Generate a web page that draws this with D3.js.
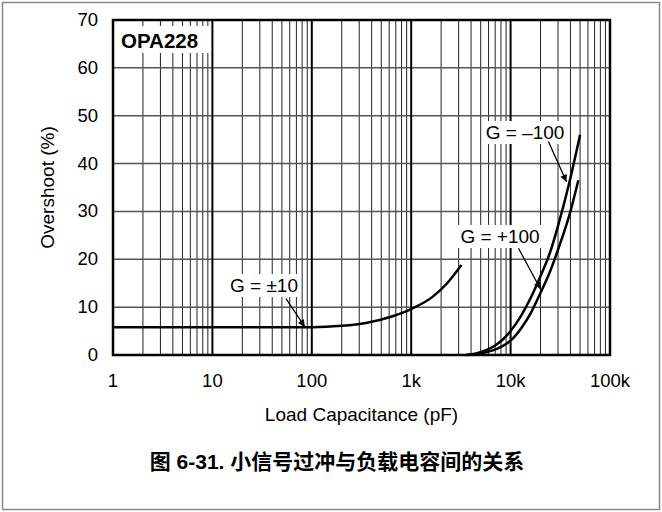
<!DOCTYPE html>
<html>
<head>
<meta charset="utf-8">
<script src="https://cdn.jsdelivr.net/npm/d3@7"></script>
<style>
  body { margin: 0; background: #fff; }
  text { font-family: "Liberation Sans", Arial, sans-serif; fill: #000; }
</style>
</head>
<body>
<script>

var width = 662,
    height = 512,
    margin = { top: 20, right: 52, bottom: 157, left: 113 };

// axis ticks
var capTicks = [1, 10, 100, 1000, 10000, 100000],
    capLabels = ["1", "10", "100", "1k", "10k", "100k"],
    overshootTicks = [0, 10, 20, 30, 40, 50, 60, 70];

// G = ±10
var g10Cap = [1, 10, 100, 200, 350, 650, 1000, 1650, 2300, 3200],
    g10Over = [5.8, 5.8, 5.8, 6.1, 6.7, 8.1, 9.6, 12.2, 15.0, 18.8];

// G = -100
var gm100Cap = [3500, 4500, 5500, 7000, 8500, 10000, 13000, 16000, 20000, 25000, 30000, 40000, 50000],
    gm100Over = [0, 0.3, 0.9, 2.0, 3.4, 5.0, 8.5, 12.0, 16.5, 21.5, 27, 37, 46];

// G = +100
var gp100Cap = [3800, 5000, 6500, 8000, 10000, 13000, 16000, 20000, 25000, 30000, 40000, 48000],
    gp100Over = [0, 0.3, 0.9, 1.7, 3.0, 5.8, 8.8, 13, 17.5, 22, 30, 36.5];

var svg = d3.select("body").append("svg")
    .attr("width", width)
    .attr("height", height);

// outer frame
svg.append("rect")
    .attr("x", 2.5).attr("y", 2.5)
    .attr("width", width - 5).attr("height", 507)
    .attr("fill", "none")
    .attr("stroke", "#888")
    .attr("stroke-width", 1.5);

var x = d3.scaleLog()
    .domain([1, 100000])
    .range([margin.left, width - margin.right]);

var y = d3.scaleLinear()
    .domain([0, 70])
    .range([height - margin.bottom, margin.top]);

var plot = svg.append("g");

// minor vertical grid (2..9 in each decade)
var minor = [];
capTicks.slice(0, -1).forEach(function(d) {
    for (var k = 2; k <= 9; k++) minor.push(d * k);
});

plot.selectAll(".minor")
    .data(minor)
    .enter().append("line")
        .attr("class", "minor")
        .attr("x1", function(d) { return x(d); })
        .attr("x2", function(d) { return x(d); })
        .attr("y1", y(0))
        .attr("y2", y(70))
        .attr("stroke", "#222")
        .attr("stroke-width", 1);

// horizontal grid
plot.selectAll(".hgrid")
    .data(overshootTicks)
    .enter().append("line")
        .attr("class", "hgrid")
        .attr("x1", x(1))
        .attr("x2", x(100000))
        .attr("y1", function(d) { return y(d); })
        .attr("y2", function(d) { return y(d); })
        .attr("stroke", "#555")
        .attr("stroke-width", 1.5);

// decade lines
plot.selectAll(".major")
    .data(capTicks)
    .enter().append("line")
        .attr("class", "major")
        .attr("x1", function(d) { return x(d); })
        .attr("x2", function(d) { return x(d); })
        .attr("y1", y(0))
        .attr("y2", y(70))
        .attr("stroke", "#000")
        .attr("stroke-width", 2);

// OPA228 tag
var tag = svg.append("g");
tag.append("rect")
    .attr("x", x(1) + 4).attr("y", y(70) + 6)
    .attr("width", 92).attr("height", 27)
    .attr("fill", "#fff");
tag.append("text")
    .attr("x", x(1) + 8)
    .attr("y", y(70) + 28)
    .attr("font-size", 20.5)
    .attr("font-weight", "bold")
    .text("OPA228");

// frame of plot
svg.append("rect")
    .attr("x", x(1)).attr("y", y(70))
    .attr("width", x(100000) - x(1))
    .attr("height", y(0) - y(70))
    .attr("fill", "none")
    .attr("stroke", "#000")
    .attr("stroke-width", 2.5);

// axes labels
svg.selectAll(".xtick")
    .data(capTicks)
    .enter().append("text")
        .attr("x", function(d) { return x(d); })
        .attr("y", y(0) + 32)
        .attr("text-anchor", "middle")
        .attr("font-size", 18.5)
        .text(function(d, i) { return capLabels[i]; });

svg.selectAll(".ytick")
    .data(overshootTicks)
    .enter().append("text")
        .attr("x", x(1) - 15)
        .attr("y", function(d) { return y(d) + 6; })
        .attr("text-anchor", "end")
        .attr("font-size", 18.5)
        .text(function(d) { return d; });

svg.append("text")
    .attr("x", (x(1) + x(100000)) / 2)
    .attr("y", 421)
    .attr("text-anchor", "middle")
    .attr("font-size", 19)
    .text("Load Capacitance (pF)");

svg.append("text")
    .attr("transform", "translate(54," + (y(35)) + ") rotate(-90)")
    .attr("text-anchor", "middle")
    .attr("font-size", 19)
    .text("Overshoot (%)");

// caption
svg.append("text")
    .attr("x", 337)
    .attr("y", 469)
    .attr("text-anchor", "middle")
    .attr("font-size", 21)
    .attr("font-weight", "bold")
    .style("font-family", "'Liberation Sans', 'Noto Sans CJK SC', sans-serif")
    .text("图 6-31. 小信号过冲与负载电容间的关系");

// curves
var line = d3.line()
    .x(function(d) { return x(d[0]); })
    .y(function(d) { return y(d[1]); })
    .curve(d3.curveMonotoneX);

function zip(a, b) { return a.map(function(v, i) { return [v, b[i]]; }); }

[zip(g10Cap, g10Over), zip(gm100Cap, gm100Over), zip(gp100Cap, gp100Over)].forEach(function(s) {
    svg.append("path")
        .datum(s)
        .attr("d", line)
        .attr("fill", "none")
        .attr("stroke", "#000")
        .attr("stroke-width", 2.5);
});

// annotation arrows
svg.append("defs").append("marker")
    .attr("id", "head")
    .attr("viewBox", "0 0 10 10")
    .attr("refX", 10).attr("refY", 5)
    .attr("markerWidth", 13).attr("markerHeight", 7)
    .attr("markerUnits", "userSpaceOnUse")
    .attr("orient", "auto")
  .append("path")
    .attr("d", "M0,0 L10,5 L0,10 Z")
    .attr("fill", "#000");

function note(label, tx, ty, fromC, fromV, toC, toV) {
    var g = svg.append("g");
    var bg = g.append("rect").attr("fill", "#fff");
    var t = g.append("text")
        .attr("x", tx).attr("y", ty)
        .attr("text-anchor", "middle")
        .attr("font-size", 19)
        .text(label);
    var b = t.node().getBBox();
    bg.attr("x", b.x - 3).attr("y", b.y - 1)
      .attr("width", b.width + 6).attr("height", b.height + 2);
    g.append("line")
        .attr("x1", x(fromC)).attr("y1", y(fromV))
        .attr("x2", x(toC)).attr("y2", y(toV))
        .attr("stroke", "#000")
        .attr("stroke-width", 1.3)
        .attr("marker-end", "url(#head)");
}

note("G = \u00b110", 264, 292, 55, 11.8, 85, 5.9);
note("G = \u2013100", 525, 139, 24000, 44.6, 36500, 36.2);
note("G = +100", 500, 243, 12000, 22.3, 20000, 13.8);

</script>
</body>
</html>
